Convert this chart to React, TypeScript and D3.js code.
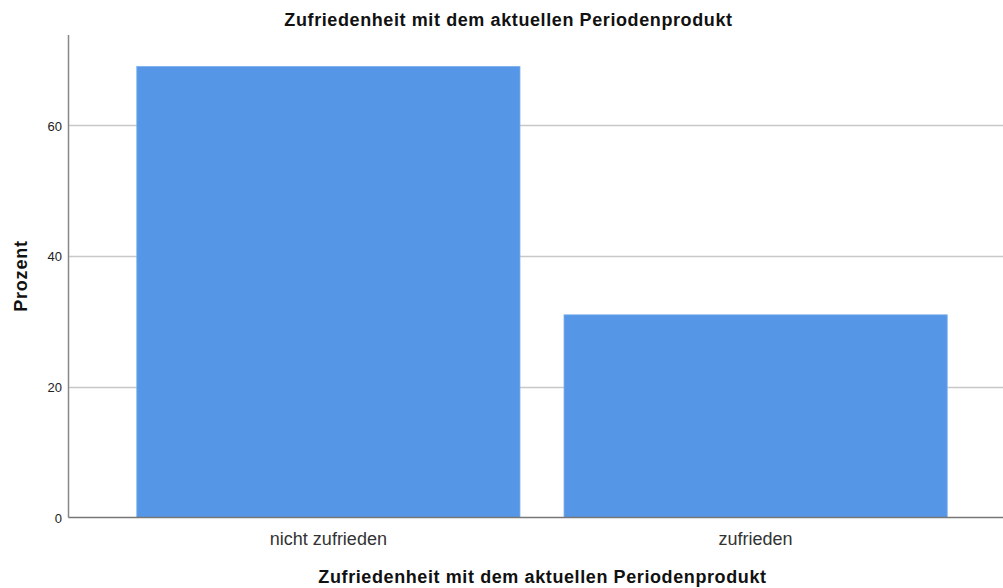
import React from "react";
import * as d3 from "d3";

const categories = ["nicht zufrieden", "zufrieden"];
const values = [69.0, 31.0];
const yTicks = [0, 20, 40, 60];
const title = "Zufriedenheit mit dem aktuellen Periodenprodukt";
const xTitle = "Zufriedenheit mit dem aktuellen Periodenprodukt";
const yTitle = "Prozent";

export default function App() {
  const W = 1003, H = 588;
  const left = 68.5, right = 1003, top = 35, bottom = 517.5;
  const y = d3.scaleLinear().domain([0, 73.8]).range([bottom, top]);
  const x = d3.scaleBand<string>().domain(categories).range([68, 1016]).paddingInner(0.103).paddingOuter(0.161);
  const font = "'Liberation Sans', Arial, sans-serif";
  return (
    <svg width={W} height={H} style={{ position: "absolute", left: 0, top: 0, background: "#fff" }}>
      <text x={508.5} y={26} textAnchor="middle" fontFamily={font} fontWeight="bold" fontSize={18} letterSpacing={0.6} fill="#111">{title}</text>
      {yTicks.filter(t => t > 0).map(t => (
        <line key={t} x1={left} x2={right} y1={Math.round(y(t)) + 0.5} y2={Math.round(y(t)) + 0.5} stroke="#c8c8c8" strokeWidth={1.5} />
      ))}
      {categories.map((c, i) => (
        <rect key={c} x={x(c)} y={y(values[i])} width={x.bandwidth()} height={bottom - y(values[i])} fill="#5596e6" stroke="#7eb0ee" strokeWidth={0.8} />
      ))}
      <line x1={left} x2={left} y1={top} y2={bottom} stroke="#888" strokeWidth={1.5} />
      <line x1={left} x2={right} y1={bottom} y2={bottom} stroke="#777" strokeWidth={1.5} />
      {yTicks.map(t => (
        <text key={t} x={62} y={y(t) + 5.5} textAnchor="end" fontFamily={font} fontSize={13} fill="#222">{t}</text>
      ))}
      {categories.map(c => (
        <text key={c} x={(x(c) as number) + x.bandwidth() / 2} y={545} textAnchor="middle" fontFamily={font} fontSize={18} fill="#333">{c}</text>
      ))}
      <text x={542.5} y={583} textAnchor="middle" fontFamily={font} fontWeight="bold" fontSize={18} letterSpacing={0.6} fill="#111">{xTitle}</text>
      <text transform={`translate(27,276) rotate(-90)`} textAnchor="middle" fontFamily={font} fontWeight="bold" fontSize={18} letterSpacing={0.8} fill="#111">{yTitle}</text>
    </svg>
  );
}
